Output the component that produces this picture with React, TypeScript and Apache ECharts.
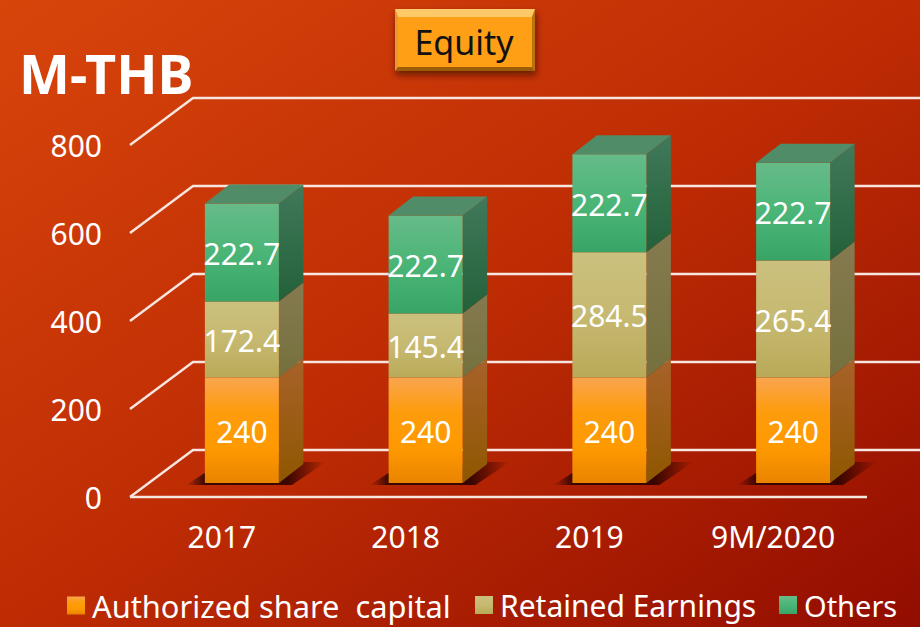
import React, { useEffect, useRef } from "react";
import * as echarts from "echarts";

const categories = ["2017", "2018", "2019", "9M/2020"];
const authorized = [240, 240, 240, 240];
const retained = [172.4, 145.4, 284.5, 265.4];
const others = [222.7, 222.7, 222.7, 222.7];
const yTicks = [0, 200, 400, 600, 800];
const seriesNames = ["Authorized share  capital", "Retained Earnings", "Others"];

const FONT = "Noto Sans";
const DX = 20, DY = -14, HALF = 37, SX = 24.5, SY = -19;
const grad = (stops: string[], x2 = 0, y2 = 1) =>
  new echarts.graphic.LinearGradient(0, 0, x2, y2, stops.map((color, i) => ({ offset: i / (stops.length - 1), color })));

const palettes = [
  { front: ["#F9A54F", "#FD9C0C", "#FF9900", "#E98400"], side: ["#A8622A", "#8F5700"] },
  { front: ["#CBC07E", "#C6B971", "#B9AA58"], side: ["#857A50", "#75703D"] },
  { front: ["#67BB89", "#4AB576", "#38A566"], side: ["#41795A", "#23613A"] },
];
const legendSpec = [
  { left: 67, fontSize: 30.8 },
  { left: 475, fontSize: 30 },
  { left: 779, fontSize: 29 },
];

const barSeries = (name: string, idx: number, bases: number[], values: number[], topFace: boolean) => ({
  type: "custom",
  name,
  clip: false,
  itemStyle: { color: palettes[idx].front[1] },
  data: values.map((v, i) => [i, bases[i], bases[i] + v, v]),
  renderItem: (_: any, api: any) => {
    const p0 = api.coord([api.value(0), api.value(1)]);
    const p1 = api.coord([api.value(0), api.value(2)]);
    const cx = p0[0] + DX;
    const yb = p0[1] + DY;
    const yt = p1[1] + DY;
    const l = cx - HALF, r = cx + HALF;
    const pal = palettes[idx];
    const children: any[] = [
      {
        type: "polygon",
        shape: { points: [[r, yb], [r + SX, yb + SY], [r + SX, yt + SY], [r, yt]] },
        style: { fill: grad(pal.side) },
      },
      {
        type: "rect",
        shape: { x: l, y: yt, width: HALF * 2, height: yb - yt },
        style: { fill: grad(pal.front) },
      },
    ];
    if (topFace) {
      children.push({
        type: "polygon",
        shape: { points: [[l, yt], [r, yt], [r + SX, yt + SY], [l + SX, yt + SY]] },
        style: { fill: "#4F8C67" },
      });
    }
    children.push({
      type: "text",
      x: cx,
      y: (yb + yt) / 2 + 1,
      style: {
        text: String(api.value(3)),
        fill: "#fff",
        font: `30px "${FONT}"`,
        align: "center",
        verticalAlign: "middle",
      },
    });
    return { type: "group", children };
  },
});

const App = () => {
  const ref = useRef<HTMLDivElement>(null);
  useEffect(() => {
    document.body.style.margin = "0";
    const chart = echarts.init(ref.current!, undefined, { renderer: "svg" });
    const othersBase = authorized.map((v, i) => v + retained[i]);
    const shadowFill = new echarts.graphic.LinearGradient(0, 0, 1, 0, [
      { offset: 0, color: "rgba(50,4,0,0)" },
      { offset: 0.14, color: "rgba(50,4,0,0.95)" },
      { offset: 0.72, color: "rgba(50,4,0,0.95)" },
      { offset: 1, color: "rgba(50,4,0,0)" },
    ]);
    chart.setOption({
      animation: false,
      backgroundColor: grad(["#D8450B", "#BE2C04", "#920D00"], 1, 1),
      grid: { left: 130, top: 145, width: 735, height: 352, containLabel: false },
      xAxis: {
        type: "category",
        data: categories,
        axisLine: { show: false },
        axisTick: { show: false },
        axisLabel: { color: "#fff", fontSize: 30, fontFamily: FONT, margin: 24 },
      },
      yAxis: {
        type: "value",
        min: 0,
        max: 800,
        interval: 200,
        axisLine: { show: false },
        axisTick: { show: false },
        splitLine: { show: false },
        axisLabel: { color: "#fff", fontSize: 30, fontFamily: FONT, margin: 28 },
      },
      legend: seriesNames.map((name, i) => ({
        left: legendSpec[i].left,
        top: 590,
        icon: "rect",
        itemWidth: 18,
        itemHeight: 18,
        padding: 0,
        textStyle: { color: "#fff", fontSize: legendSpec[i].fontSize, lineHeight: 30, fontFamily: FONT, padding: [0, 0, 0, 2] },
        data: [{ name, itemStyle: { color: grad(palettes[i].front) } }],
      })),
      series: [
        {
          type: "custom",
          name: "walls",
          clip: false,
          data: yTicks.map((v) => [0, v]),
          renderItem: (params: any, api: any) => {
            const v = api.value(1);
            const y = api.coord([0, v])[1];
            const x0 = params.coordSys.x;
            const line = { stroke: "#F7E6E0", lineWidth: 2.4, fill: "none" };
            const children: any[] = [
              { type: "polyline", shape: { points: [[x0, y], [x0 + 63, y - 47], [920, y - 47]] }, style: line },
            ];
            if (v === 0) {
              children.push({ type: "line", shape: { x1: x0, y1: y, x2: 867, y2: y }, style: { stroke: "#F7E6E0", lineWidth: 2.4 } });
            }
            return { type: "group", children };
          },
        },
        {
          type: "custom",
          name: "shadows",
          clip: false,
          data: categories.map((_, i) => [i, 0]),
          renderItem: (_: any, api: any) => {
            const p = api.coord([api.value(0), 0]);
            const cx = p[0] + DX;
            const yb = p[1] + DY;
            return {
              type: "polygon",
              shape: {
                points: [
                  [cx - 56, yb + 2],
                  [cx - 37, yb - 10],
                  [cx + 60, yb - 21],
                  [cx + 84, yb - 21],
                  [cx + 50, yb + 2],
                ],
              },
              style: { fill: shadowFill },
            };
          },
        },
        barSeries(seriesNames[0], 0, authorized.map(() => 0), authorized, false),
        barSeries(seriesNames[1], 1, authorized, retained, false),
        barSeries(seriesNames[2], 2, othersBase, others, true),
      ],
      graphic: [
        {
          type: "text",
          left: 19,
          top: 46,
          style: { text: "M-THB", fill: "#fff", font: `bold 54px "${FONT}"` },
        },
        {
          type: "rect",
          shape: { x: 395, y: 9, width: 140, height: 62 },
          style: { fill: "#FF9F12", shadowBlur: 7, shadowOffsetX: 1, shadowOffsetY: 4, shadowColor: "rgba(60,10,0,0.7)" },
        },
        { type: "polygon", shape: { points: [[395, 9], [535, 9], [532, 17], [398, 17]] }, style: { fill: "#FFC869" } },
        { type: "polygon", shape: { points: [[395, 9], [398, 17], [398, 67], [395, 71]] }, style: { fill: "#E39A36" } },
        { type: "polygon", shape: { points: [[535, 9], [532, 17], [532, 67], [535, 71]] }, style: { fill: "#B9740F" } },
        { type: "polygon", shape: { points: [[395, 71], [398, 67], [532, 67], [535, 71]] }, style: { fill: "#9C5C08" } },
        {
          type: "text",
          x: 464,
          y: 42,
          style: { text: "Equity", fill: "#111", font: `34px "${FONT}"`, align: "center", verticalAlign: "middle" },
        },
      ],
    });
    return () => chart.dispose();
  }, []);
  return <div ref={ref} style={{ width: 920, height: 627, overflow: "hidden" }} />;
};

export default App;
